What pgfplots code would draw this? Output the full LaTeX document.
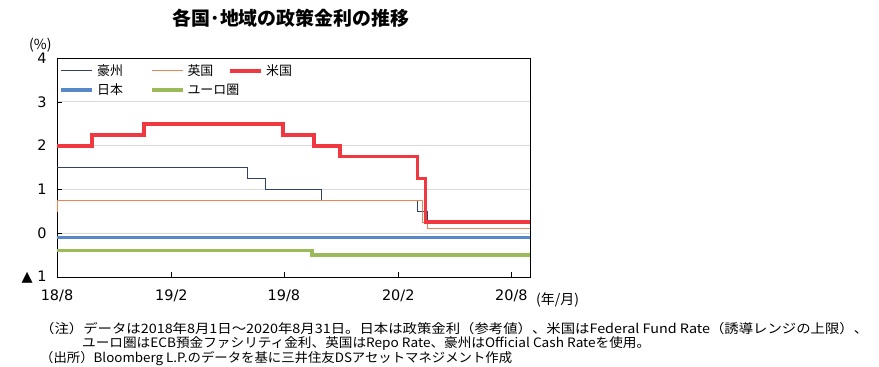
\documentclass[border=0pt]{standalone}
\usepackage{fontspec}
\setmainfont{Noto Sans CJK JP}
\newfontfamily\numfont{DejaVu Sans}
\usepackage{graphicx}
\usepackage{pgfplots}
\pgfplotsset{compat=1.18}

\definecolor{ausnavy}{RGB}{50,66,100}
\definecolor{ukorange}{RGB}{240,130,90}
\definecolor{usred}{RGB}{240,56,64}
\definecolor{jpblue}{RGB}{88,136,200}
\definecolor{eugreen}{RGB}{155,187,89}
\definecolor{gridgray}{RGB}{217,217,217}

% x = days since 2018-08-01
\pgfplotstableread{
x y
0 1.50
307 1.25
335 1.00
426 0.75
580 0.50
596 0.25
761 0.25
}\australia
\pgfplotstableread{
x y
0 0.50
1 0.75
588 0.25
596 0.10
761 0.10
}\uk
\pgfplotstableread{
x y
0 2.00
56 2.25
140 2.50
364 2.25
413 2.00
455 1.75
580 1.25
593 0.25
761 0.25
}\us
\pgfplotstableread{
x y
0 -0.10
761 -0.10
}\japan
\pgfplotstableread{
x y
0 -0.40
410 -0.50
761 -0.50
}\euro

\begin{document}
\begin{tikzpicture}
\path[use as bounding box] (0,0) rectangle (879bp,-367bp);
\begin{axis}[
    at={(57bp,-277bp)}, anchor=south west,
    scale only axis, width=473bp, height=219bp,
    xmin=0, xmax=761, ymin=-1, ymax=4,
    xtick={0,184,365,549,731},
    xticklabels={18/8,19/2,19/8,20/2,20/8},
    ytick={-1,0,1,2,3,4},
    yticklabels={▲ 1,0,1,2,3,4},
    xtick pos=bottom, ytick pos=left,
    tick align=inside,
    major tick length=5bp,
    tick style={black, line width=0.6bp},
    ticklabel style={font=\numfont\fontsize{14.5}{14.5}\selectfont},
    yticklabel style={xshift=-7bp},
    xticklabel style={yshift=-9bp},
    ymajorgrids,
    grid style={gridgray, line width=0.8bp},
    axis line style={black, line width=0.8bp},
    const plot,
    legend columns=3,
    legend cell align=left,
    legend image code/.code={\draw[#1] (0bp,0bp) -- (31bp,0bp);},
    legend style={at={(0.003,0.985)}, anchor=north west, draw=none, fill=none,
        font=\fontsize{13}{13}\selectfont, inner sep=1bp,
        /tikz/every odd column/.append style={column sep=1bp},
        /tikz/column 2/.append style={column sep=25bp},
        /tikz/column 4/.append style={column sep=-13bp},
        /tikz/row sep=3bp},
]
\addplot[ausnavy, line width=0.9bp] table {\australia};
\addlegendentry{豪州}
\addplot[ukorange, line width=0.9bp] table {\uk};
\addlegendentry{英国}
\addplot[usred, line width=3.8bp] table {\us};
\addlegendentry{米国}
\addplot[jpblue, line width=3.5bp] table {\japan};
\addlegendentry{日本}
\addplot[eugreen, line width=3.5bp] table {\euro};
\addlegendentry{ユーロ圏}
\end{axis}
\node[anchor=base, font=\bfseries\fontsize{19}{19}\selectfont, inner sep=0] at (291bp,-25bp) {各国･地域の政策金利の推移};
\node[anchor=base west, font=\fontsize{14}{14}\selectfont, inner sep=0] at (29bp,-49bp) {(\%)};
\node[anchor=base west, font=\fontsize{14}{14}\selectfont, inner sep=0] at (536bp,-304bp) {(年/月)};
\node[anchor=base west, font=\fontsize{13}{13}\selectfont, inner sep=0] at (40bp,-333bp)
  {\resizebox{828bp}{\height}{（注）データは2018年8月1日～2020年8月31日。日本は政策金利（参考値）、米国はFederal Fund Rate（誘導レンジの上限）、}};
\node[anchor=base west, font=\fontsize{13}{13}\selectfont, inner sep=0] at (82bp,-347bp)
  {\resizebox{568bp}{\height}{ユーロ圏はECB預金ファシリティ金利、英国はRepo Rate、豪州はOfficial Cash Rateを使用。}};
\node[anchor=base west, font=\fontsize{13}{13}\selectfont, inner sep=0] at (40bp,-362bp)
  {\resizebox{472bp}{\height}{（出所）Bloomberg L.P.のデータを基に三井住友DSアセットマネジメント作成}};
\end{tikzpicture}
\end{document}
